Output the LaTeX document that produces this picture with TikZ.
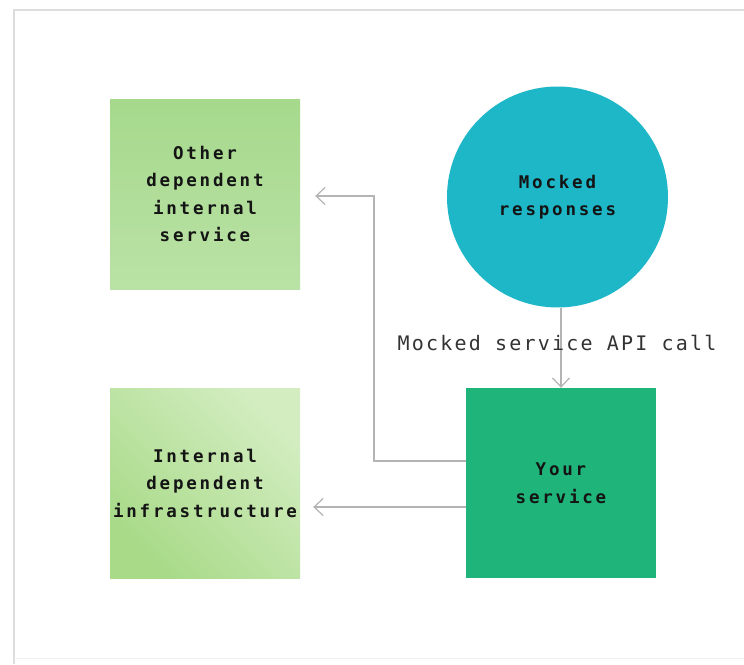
\documentclass[tikz,border=0pt]{standalone}
\usepackage{fontspec}
\usetikzlibrary{arrows.meta,positioning}
\newfontfamily\boxfont[LetterSpace=16]{DejaVu Sans Mono}
\newfontfamily\labelfont[LetterSpace=11]{DejaVu Sans Mono}

\definecolor{othertop}{HTML}{A6D98C}
\definecolor{otherbot}{HTML}{BAE2A6}
\definecolor{infradark}{HTML}{A8DA88}
\definecolor{infralight}{HTML}{D3EDC1}
\definecolor{mockfill}{HTML}{1EB7C8}
\definecolor{yourfill}{HTML}{1FB57A}
\definecolor{linkgray}{HTML}{B4B4B4}
\definecolor{framegray}{HTML}{DDDDDD}
\definecolor{inkdark}{HTML}{141414}
\definecolor{inklabel}{HTML}{333333}

\tikzset{
  sqbox/.style={minimum width=190pt, minimum height=190pt, inner sep=0pt,
    align=center, text=inkdark, font=\boxfont\bfseries\fontsize{17.5}{27.5}\selectfont},
  mockcircle/.style={circle, fill=mockfill, minimum size=221pt, inner sep=0pt,
    align=center, text=inkdark, font=\boxfont\bfseries\fontsize{17.5}{27.5}\selectfont},
  conn/.style={draw=linkgray, line width=1.2pt,
    -{Straight Barb[length=9pt,width=17pt,line width=1.2pt]}},
  calllabel/.style={text=inklabel, font=\labelfont\fontsize{20}{22}\selectfont}
}

\begin{document}
\begin{tikzpicture}[x=1pt,y=-1pt]
  \useasboundingbox (0,0) rectangle (744,664);
  \fill[white] (0,0) rectangle (744,664);

  % card frame
  \draw[framegray, line width=1.5pt] (14,664) -- (14,10) -- (744,10);
  \draw[framegray!40, line width=1pt] (14,658) -- (744,658);

  % boxes
  \node[sqbox, top color=othertop, bottom color=otherbot] (other) at (205,194)
    {Other\\dependent\\internal\\service};
  \node[sqbox, shading=axis, left color=infradark, right color=infralight,
    shading angle=135] (infra) at (205,483)
    {Internal\\dependent\\infrastructure};
  \node[mockcircle] (mock) at (557.5,197) {Mocked\\responses};
  \node[sqbox, fill=yourfill] (your) at (561,483) {Your\\service};

  % API call link
  \draw[conn] (mock.south -| your.north) -- (your.north);
  \node[calllabel] (calllbl) at (557,343) {Mocked service API call};

  % dependency links
  \coordinate (bend) at (374,196);
  \draw[conn] ([yshift=22pt]your.west) -| (bend) -- ([xshift=15pt,yshift=-2pt]other.east);
  \draw[conn] ([yshift=-24pt]your.west) -- ([xshift=13pt,yshift=-24pt]infra.east);
\end{tikzpicture}
\end{document}
